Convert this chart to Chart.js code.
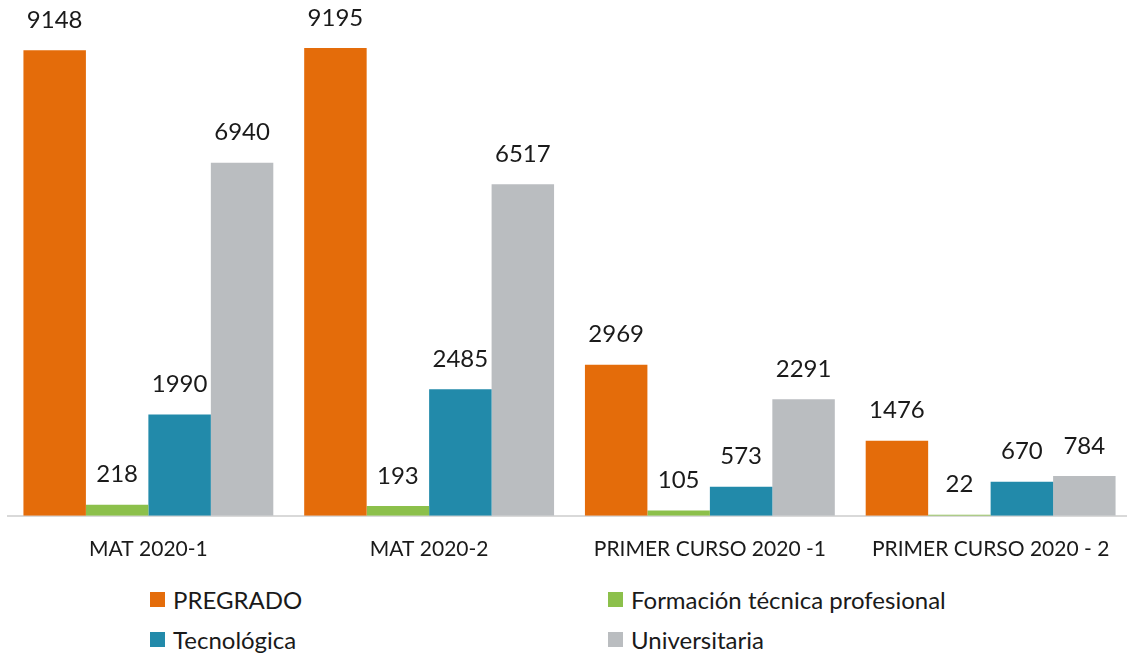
<!DOCTYPE html>
<html>
<head>
<meta charset="utf-8">
<script src="https://cdn.jsdelivr.net/npm/chart.js@4/dist/chart.umd.min.js"></script>
<style>
  body { margin: 0; background: #fff; font-family: Lato, "Open Sans", sans-serif; overflow: hidden; }
  #wrap { position: relative; width: 1127px; height: 658px; overflow: hidden; }
  #chart { position: absolute; left: 0; top: 0; }
  #legend { position: absolute; left: 150px; top: 585px; width: 977px; display: grid;
    grid-template-columns: 458px 450px; row-gap: 12px; font-size: 24px; color: #1a1a1a; }
  .item { display: flex; align-items: center; height: 28px; }
  .box { width: 15px; height: 15px; margin-right: 8px; }
</style>
</head>
<body>
<div id="wrap">
  <canvas id="chart" width="1131" height="575"></canvas>
  <div id="legend"></div>
</div>
<script>
const categories = ['MAT 2020-1', 'MAT 2020-2', 'PRIMER CURSO 2020 -1', 'PRIMER CURSO 2020 - 2']
const seriesNames = ['PREGRADO', 'Formación técnica profesional', 'Tecnológica', 'Universitaria']
const pregrado = [9148, 9195, 2969, 1476]
const tecnicaProfesional = [218, 193, 105, 22]
const tecnologica = [1990, 2485, 573, 670]
const universitaria = [6940, 6517, 2291, 784]
const colors = ['#e46c0a', '#8cc04b', '#228aaa', '#babdc0']

const valueLabels = {
    id: 'valueLabels',
    afterDatasetsDraw(chart) {
        const ctx = chart.ctx
        ctx.save()
        ctx.font = '24px Lato, sans-serif'
        ctx.fillStyle = '#1a1a1a'
        ctx.textAlign = 'center'
        ctx.textBaseline = 'middle'
        chart.data.datasets.forEach((ds, i) => {
            chart.getDatasetMeta(i).data.forEach((bar, j) => {
                ctx.fillText(ds.data[j], bar.x, bar.y - 30)
            })
        })
        ctx.restore()
    }
}

const allSeries = [pregrado, tecnicaProfesional, tecnologica, universitaria]

const data = {
    labels: categories,
    datasets: allSeries.map((vals, i) => ({
        label: seriesNames[i],
        data: vals,
        backgroundColor: colors[i],
        categoryPercentage: 0.89,
        barPercentage: 1.0
    }))
}

const config = {
    type: 'bar',
    data: data,
    options: {
        responsive: false,
        animation: false,
        layout: { padding: { top: 7, left: 8, right: 0, bottom: 0 } },
        plugins: {
            legend: { display: false },
            tooltip: { enabled: false }
        },
        scales: {
            x: {
                grid: { display: false },
                border: { display: true, color: '#d9d9d9', width: 2 },
                ticks: { color: '#1a1a1a', font: { family: 'Lato', size: 21 }, padding: 13, maxRotation: 0, autoSkip: false }
            },
            y: {
                display: false,
                min: 0,
                max: 10000
            }
        }
    },
    plugins: [valueLabels]
}

const myChart = new Chart(document.getElementById('chart'), config)

const legend = document.getElementById('legend')
// order: row-wise PREGRADO, Formación / Tecnológica, Universitaria
seriesNames.forEach((name, i) => {
    const item = document.createElement('div')
    item.className = 'item'
    item.innerHTML = '<span class="box" style="background:' + colors[i] + '"></span><span>' + name + '</span>'
    legend.appendChild(item)
})
</script>
</body>
</html>
